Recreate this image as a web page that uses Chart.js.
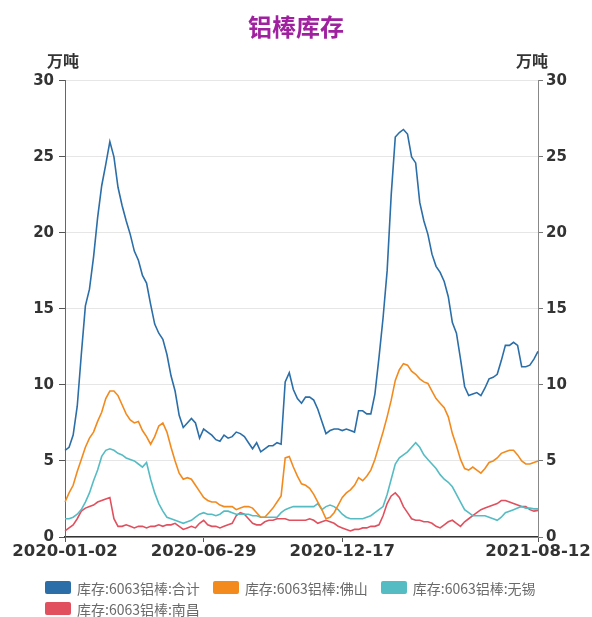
<!DOCTYPE html>
<html>
<head>
<meta charset="utf-8">
<script src="https://cdn.jsdelivr.net/npm/chart.js@4/dist/chart.umd.min.js"></script>
<style>
html,body{margin:0;padding:0;background:#fff;overflow:hidden;}
#wrap{position:relative;width:592px;height:617px;}
#c{position:absolute;left:0;top:0;}
#legend{position:absolute;left:45px;top:577px;width:530px;display:flex;flex-wrap:wrap;font-family:"Noto Sans CJK SC",sans-serif;font-size:14px;color:#6a6a6a;}
.item{display:flex;align-items:center;height:21px;margin-right:13px;white-space:nowrap;line-height:14px;}
.sw{width:26px;height:13px;border-radius:2px;margin-right:6px;}
</style>
</head>
<body>
<div id="wrap"><canvas id="c" width="592" height="617"></canvas><div id="legend"></div></div>
<script>
const chartTitle = '铝棒库存';
const unitLabel = '万吨';
const seriesNames = ['库存:6063铝棒:合计','库存:6063铝棒:佛山','库存:6063铝棒:无锡','库存:6063铝棒:南昌'];
const seriesColors = ['#2b6ea8','#f28a1e','#56bcc4','#e0505e'];
const xTickDates = ['2020-01-02','2020-06-29','2020-12-17','2021-08-12'];
const yTicks = [0,5,10,15,20,25,30];

const dates = [
'2020-01-02','2020-01-07','2020-01-13','2020-01-17','2020-01-22','2020-02-03','2020-02-07','2020-02-12','2020-02-17','2020-02-21',
'2020-02-26','2020-03-02','2020-03-06','2020-03-11','2020-03-16','2020-03-20','2020-03-25','2020-03-30','2020-04-03','2020-04-08',
'2020-04-13','2020-04-17','2020-04-22','2020-04-27','2020-05-06','2020-05-11','2020-05-15','2020-05-20','2020-05-25','2020-05-29',
'2020-06-03','2020-06-08','2020-06-12','2020-06-18','2020-06-29','2020-07-03','2020-07-08','2020-07-13','2020-07-17','2020-07-22',
'2020-07-27','2020-07-31','2020-08-05','2020-08-10','2020-08-14','2020-08-19','2020-08-24','2020-08-28','2020-09-02','2020-09-07',
'2020-09-11','2020-09-16','2020-09-21','2020-09-25','2020-09-30','2020-10-12','2020-10-16','2020-10-21','2020-10-26','2020-10-30',
'2020-11-04','2020-11-09','2020-11-13','2020-11-18','2020-11-23','2020-11-27','2020-12-02','2020-12-09','2020-12-17','2020-12-22',
'2020-12-25','2020-12-30','2021-01-05','2021-01-08','2021-01-13','2021-01-18','2021-01-22','2021-01-27','2021-02-01','2021-02-05',
'2021-02-18','2021-02-23','2021-02-26','2021-03-03','2021-03-08','2021-03-12','2021-03-17','2021-03-22','2021-03-26','2021-03-31',
'2021-04-06','2021-04-09','2021-04-14','2021-04-19','2021-04-23','2021-04-28','2021-05-06','2021-05-11','2021-05-14','2021-05-19',
'2021-05-24','2021-05-28','2021-06-02','2021-06-07','2021-06-11','2021-06-17','2021-06-22','2021-06-25','2021-06-30','2021-07-05',
'2021-07-09','2021-07-14','2021-07-19','2021-07-23','2021-07-28','2021-08-04','2021-08-12'
];

const total = [
5.7,5.9,6.7,8.6,12.0,15.2,16.3,18.4,21.0,23.1,
24.5,26.0,25.0,23.0,21.8,20.8,19.9,18.8,18.2,17.2,
16.7,15.3,14.0,13.4,13.0,12.0,10.6,9.6,8.0,7.2,
7.5,7.8,7.5,6.5,7.1,6.9,6.7,6.4,6.3,6.7,
6.5,6.6,6.9,6.8,6.6,6.2,5.8,6.2,5.6,5.8,
6.0,6.0,6.2,6.1,10.2,10.8,9.7,9.1,8.8,9.2,
9.2,9.0,8.4,7.6,6.8,7.0,7.1,7.1,7.0,7.1,
7.0,6.9,8.3,8.3,8.1,8.1,9.4,11.8,14.4,17.5,
22.5,26.3,26.6,26.8,26.5,25.0,24.6,22.0,20.8,19.9,
18.6,17.8,17.4,16.8,15.8,14.1,13.4,11.7,9.9,9.3,
9.4,9.5,9.3,9.8,10.4,10.5,10.7,11.6,12.6,12.6,
12.8,12.6,11.2,11.2,11.3,11.7,12.2
];

const foshan = [
2.3,2.9,3.4,4.3,5.1,5.9,6.5,6.9,7.6,8.2,
9.1,9.6,9.6,9.3,8.7,8.1,7.7,7.5,7.6,7.0,
6.6,6.1,6.6,7.3,7.5,6.9,5.9,5.0,4.2,3.8,
3.9,3.8,3.4,3.0,2.6,2.4,2.3,2.3,2.1,2.0,
2.0,2.0,1.8,1.9,2.0,2.0,1.9,1.6,1.3,1.3,
1.6,1.9,2.3,2.7,5.2,5.3,4.6,4.0,3.5,3.4,
3.2,2.8,2.3,1.8,1.2,1.3,1.6,2.1,2.6,2.9,
3.1,3.4,3.9,3.7,4.0,4.4,5.1,6.0,6.9,7.9,
9.0,10.3,11.0,11.4,11.3,10.9,10.7,10.4,10.2,10.1,
9.6,9.1,8.8,8.5,7.9,6.8,6.0,5.1,4.5,4.4,
4.6,4.4,4.2,4.5,4.9,5.0,5.2,5.5,5.6,5.7,
5.7,5.4,5.0,4.8,4.8,4.9,5.0
];

const wuxi = [
1.2,1.2,1.3,1.5,1.8,2.3,2.9,3.7,4.4,5.3,
5.7,5.8,5.7,5.5,5.4,5.2,5.1,5.0,4.8,4.6,
4.9,3.8,2.9,2.2,1.7,1.3,1.2,1.1,1.0,0.9,
1.0,1.1,1.3,1.5,1.6,1.5,1.5,1.4,1.5,1.7,
1.7,1.6,1.5,1.5,1.5,1.5,1.4,1.4,1.3,1.3,
1.3,1.3,1.3,1.6,1.8,1.9,2.0,2.0,2.0,2.0,
2.0,2.0,2.2,1.8,2.0,2.1,2.0,1.8,1.5,1.3,
1.2,1.2,1.2,1.2,1.3,1.4,1.6,1.8,2.0,2.8,
3.8,4.8,5.2,5.4,5.6,5.9,6.2,5.9,5.4,5.1,
4.8,4.5,4.1,3.8,3.6,3.3,2.8,2.3,1.8,1.6,
1.4,1.4,1.4,1.4,1.3,1.2,1.1,1.3,1.6,1.7,
1.8,1.9,2.0,1.9,1.9,1.85,1.85
];

const nanchang = [
0.4,0.6,0.8,1.2,1.7,1.9,2.0,2.1,2.3,2.4,
2.5,2.6,1.2,0.7,0.7,0.8,0.7,0.6,0.7,0.7,
0.6,0.7,0.7,0.8,0.7,0.8,0.8,0.9,0.7,0.5,
0.6,0.7,0.6,0.9,1.1,0.8,0.7,0.7,0.6,0.7,
0.8,0.9,1.4,1.6,1.5,1.2,0.9,0.8,0.8,1.0,
1.1,1.1,1.2,1.2,1.2,1.1,1.1,1.1,1.1,1.1,
1.2,1.1,0.9,1.0,1.1,1.0,0.9,0.7,0.6,0.5,
0.4,0.5,0.5,0.6,0.6,0.7,0.7,0.8,1.4,2.2,
2.7,2.9,2.6,2.0,1.6,1.2,1.1,1.1,1.0,1.0,
0.9,0.7,0.6,0.8,1.0,1.1,0.9,0.7,1.0,1.2,
1.4,1.6,1.8,1.9,2.0,2.1,2.2,2.4,2.4,2.3,
2.2,2.1,2.0,2.0,1.8,1.7,1.75
];

const seriesData = [total, foshan, wuxi, nanchang];

const unitPlugin = {
  id: 'unitLabels',
  afterDraw(chart) {
    const ctx = chart.ctx, a = chart.chartArea;
    ctx.save();
    ctx.font = 'bold 16px "Noto Sans CJK SC", sans-serif';
    ctx.fillStyle = '#333';
    ctx.textAlign = 'center';
    ctx.textBaseline = 'middle';
    ctx.fillText(unitLabel, a.left - 2, 61);
    ctx.fillText(unitLabel, a.right - 6, 61);
    ctx.restore();
  }
};

const tickFont = { family: '"DejaVu Sans", sans-serif', size: 15, weight: 'bold' };
const isLabelled = i => xTickDates.includes(dates[i]);

const chart = new Chart(document.getElementById('c'), {
  type: 'line',
  data: {
    labels: dates,
    datasets: seriesData.map((d, k) => ({
      label: seriesNames[k],
      data: d,
      borderColor: seriesColors[k],
      backgroundColor: seriesColors[k],
      borderWidth: 1.6,
      pointRadius: 0,
      tension: 0,
      fill: false,
      yAxisID: 'y'
    }))
  },
  options: {
    responsive: false,
    animation: false,
    devicePixelRatio: 1,
    layout: { padding: { left: 0, right: 0, top: 0, bottom: 50 } },
    plugins: {
      legend: { display: false },
      tooltip: { enabled: false },
      title: {
        display: true,
        text: chartTitle,
        color: '#a0219f',
        font: { family: '"Noto Sans CJK SC", sans-serif', size: 24, weight: 'bold' },
        padding: { top: 12, bottom: 40 }
      }
    },
    scales: {
      x: {
        type: 'category',
        offset: false,
        grid: {
          drawOnChartArea: false,
          drawTicks: true,
          tickLength: 5,
          tickColor: c => isLabelled(c.index) ? '#555' : 'rgba(0,0,0,0)'
        },
        border: { display: true, color: '#333', width: 1.5 },
        ticks: {
          autoSkip: false,
          maxRotation: 0,
          minRotation: 0,
          padding: 0,
          color: '#333',
          font: { family: '"DejaVu Sans", sans-serif', size: 16.5, weight: 'bold' },
          callback: (v, i) => isLabelled(i) ? dates[i] : ''
        },
        afterFit: s => { s.height = 30; }
      },
      y: {
        position: 'left',
        min: 0, max: 30,
        afterBuildTicks: s => { s.ticks = yTicks.map(v => ({ value: v })); },
        grid: { color: '#e6e6e6', lineWidth: 1, drawTicks: true, tickLength: 6, tickColor: '#555' },
        border: { display: true, color: '#666', width: 1 },
        ticks: { padding: 5, color: '#333', font: tickFont },
        afterFit: s => { s.width = 65; }
      },
      y2: {
        position: 'right',
        min: 0, max: 30,
        afterBuildTicks: s => { s.ticks = yTicks.map(v => ({ value: v })); },
        grid: { drawOnChartArea: false, drawTicks: true, tickLength: 5, tickColor: '#777' },
        border: { display: true, color: '#888', width: 1 },
        ticks: { padding: 3, color: '#333', font: tickFont },
        afterFit: s => { s.width = 54; }
      }
    }
  },
  plugins: [unitPlugin]
});

const legendEl = document.getElementById('legend');
chart.data.datasets.forEach(ds => {
  const item = document.createElement('div');
  item.className = 'item';
  const sw = document.createElement('span');
  sw.className = 'sw';
  sw.style.background = ds.borderColor;
  const tx = document.createElement('span');
  tx.textContent = ds.label;
  item.appendChild(sw);
  item.appendChild(tx);
  legendEl.appendChild(item);
});
</script>
</body>
</html>
